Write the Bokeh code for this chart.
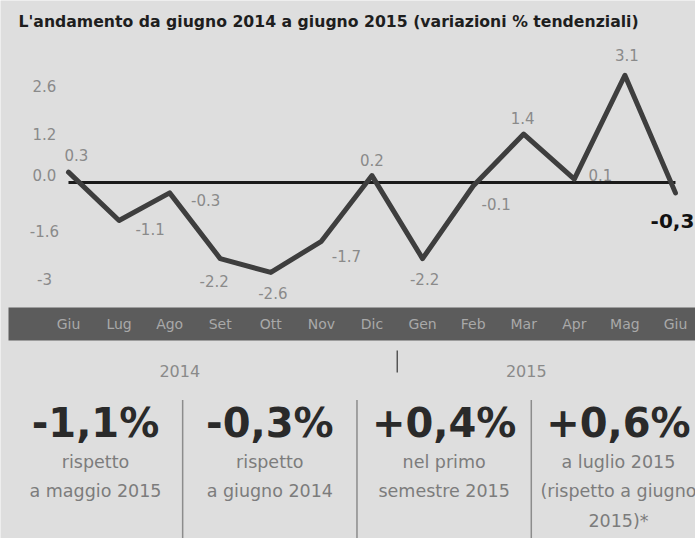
from bokeh.plotting import figure
from bokeh.models import Range1d, ColumnDataSource, Label, LabelSet, BoxAnnotation
from bokeh.embed import file_html
from bokeh.resources import INLINE
from bokeh.core.properties import value

# ---------------- data ----------------
title = "L'andamento da giugno 2014 a giugno 2015 (variazioni % tendenziali)"
months = ["Giu", "Lug", "Ago", "Set", "Ott", "Nov", "Dic", "Gen", "Feb", "Mar", "Apr", "Mag", "Giu"]
values = [0.3, -1.1, -0.3, -2.2, -2.6, -1.7, 0.2, -2.2, -0.1, 1.4, 0.1, 3.1, -0.3]
value_labels = ["0.3", "-1.1", "-0.3", "-2.2", "-2.6", "-1.7", "0.2", "-2.2", "-0.1", "1.4", "0.1", "3.1", "-0,3"]
y_ticks = [2.6, 1.2, 0.0, -1.6, -3.0]
y_tick_labels = ["2.6", "1.2", "0.0", "-1.6", "-3"]
years = ["2014", "2015"]
year_centers = [2.2, 9.05]
year_divider = 6.5
stat_values = ["-1,1%", "-0,3%", "+0,4%", "+0,6%"]
stat_notes = [["rispetto", "a maggio 2015"],
              ["rispetto", "a giugno 2014"],
              ["nel primo", "semestre 2015"],
              ["a luglio 2015", "(rispetto a giugno", "2015)*"]]

# ---------------- styles ----------------
BG = "#dedede"
LINE = "#3e3e3e"
GRAYTXT = "#8a8a8a"
FONT = "DejaVu Sans"
W, H = 695, 538
label_dx = [8, 31, 36, -6, 2, 25, 0, 2, 23, -1, 26, 2, -3]
label_dy = [-17, 8, 7, 22, 21, 15, -16, 20, 18, -16, -4, -20, 28]
n = len(months)
idx = list(range(n))

p = figure(width=W, height=H, x_range=Range1d(-1.344, 12.396), y_range=Range1d(-10.289, 5.260),
           output_backend="svg", toolbar_location=None, x_axis_type=None, y_axis_type=None,
           min_border=0, min_border_left=0, min_border_right=0,
           min_border_top=0, min_border_bottom=0)
p.extra_y_ranges = {"px": Range1d(H, 0)}
p.extra_x_ranges = {"stat": Range1d(-0.545, 3.442)}
p.background_fill_color = BG
p.border_fill_color = BG
p.outline_line_color = None
p.xgrid.visible = False
p.ygrid.visible = False

# ---------------- chart ----------------
p.add_layout(Label(x=18, y=H - 21, x_units="screen", y_units="screen", text=title,
                   text_font=FONT, text_font_style="bold", text_font_size="15.7px",
                   text_color="#1e1e1e", text_baseline="middle", text_align="left"))

tick_src = ColumnDataSource(dict(x=[44] * len(y_ticks), y=y_ticks, t=y_tick_labels))
p.add_layout(LabelSet(x="x", y="y", text="t", source=tick_src, x_units="screen",
                      y_offset=7, text_align="center", text_baseline="middle",
                      text_font=value(FONT), text_font_size="15px", text_color=GRAYTXT))

p.line(x=[idx[0], idx[-1]], y=[0, 0], line_width=3, line_color="#1a1a1a")
p.line(x=idx, y=values, line_width=5, line_color=LINE, line_join="round", line_cap="round")

src = ColumnDataSource(dict(x=idx, y=values, t=value_labels, dx=label_dx, dy=label_dy,
                            c=[GRAYTXT] * (n - 1) + ["#111111"],
                            fs=["15px"] * (n - 1) + ["20px"],
                            st=["normal"] * (n - 1) + ["bold"]))
p.text(x="x", y="y", text="t", source=src, x_offset="dx", y_offset="dy",
       text_align="center", text_baseline="middle", text_font=value(FONT),
       text_font_size="fs", text_color="c", text_font_style="st")

# ---------------- month band ----------------
p.add_layout(BoxAnnotation(left=8, left_units="screen", top=307, bottom=340, y_range_name="px",
                           fill_color="#5c5c5c", fill_alpha=1.0, line_color=None, level="underlay"))
p.text(x=idx, y=[323.5] * n, text=months, y_range_name="px", text_align="center",
       text_baseline="middle", text_font=value(FONT), text_font_size="14px",
       text_color="#a9a9a9")
p.segment(x0=[year_divider], y0=[350], x1=[year_divider], y1=[372], y_range_name="px",
          line_color="#555555", line_width=1.5)
p.text(x=year_centers, y=[370, 370], text=years, y_range_name="px", text_align="center",
       text_baseline="middle", text_font=value(FONT), text_font_size="16px", text_color=GRAYTXT)

# ---------------- stats ----------------
k = list(range(len(stat_values)))
p.segment(x0=[i + 0.5 for i in k[:-1]], y0=[400] * (len(k) - 1),
          x1=[i + 0.5 for i in k[:-1]], y1=[H] * (len(k) - 1),
          x_range_name="stat", y_range_name="px",
          line_color="#3a3a3a", line_width=1.5, line_dash="1 1")
p.text(x=k, y=[422] * len(k), text=stat_values, x_range_name="stat", y_range_name="px",
       text_align="center", text_baseline="middle", text_font=value(FONT),
       text_font_style="bold", text_font_size="40px", text_color="#2a2a2a")
nx, ny, nt = [], [], []
for i, lines in enumerate(stat_notes):
    for j, s in enumerate(lines):
        nx.append(i)
        ny.append(461 + 29.5 * j)
        nt.append(s)
p.text(x=nx, y=ny, text=nt, x_range_name="stat", y_range_name="px",
       text_align="center", text_baseline="middle", text_font=value(FONT),
       text_font_size="17.5px", text_color="#7c7c7c")

open("out.html", "w").write(file_html(p, INLINE))
